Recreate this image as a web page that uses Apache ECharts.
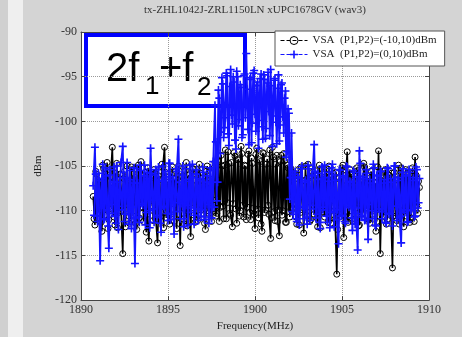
<!DOCTYPE html>
<html>
<head>
<meta charset="utf-8">
<script src="https://cdn.jsdelivr.net/npm/echarts@6/dist/echarts.min.js"></script>
<style>
  html, body { margin: 0; padding: 0; background: #d4d4d4; }
  #chart { width: 462px; height: 337px; }
</style>
</head>
<body>
<div id="chart"></div>
<script>
// Two captures per drive level; each sweeps 1890.7 MHz to 1909.4 MHz in 0.1 MHz steps,
// the second capture sitting half a step above the first.
const sweepStartMHz = [1890.7, 1890.75];
const sweepStepMHz = 0.1;

// VSA reading (dBm), (P1,P2) = (-10,10) dBm, capture 1
const lowDriveDbmA = [
  -108.4, -111.6, -105.9, -110.2, -106.7, -112.3, -105.3, -109.8, -104.6, -111.0,
  -106.2, -102.9, -110.7, -105.8, -111.9, -106.4, -110.0, -114.8, -105.6, -109.3,
  -106.9, -111.4, -105.1, -110.6, -106.3, -112.1, -104.9, -109.7, -106.0, -111.2,
  -105.7, -110.4, -113.4, -106.1, -109.5, -105.4, -111.0, -113.6, -106.5, -110.1,
  -105.2, -102.9, -110.8, -106.8, -111.5, -105.9, -109.2, -106.4, -112.0, -105.0,
  -113.9, -106.2, -110.3, -105.5, -111.7, -106.0, -112.9, -105.3, -110.5, -106.6,
  -111.1, -104.8, -109.9, -106.3, -111.4, -105.6, -110.0, -106.9, -111.2,
  -108.8, -104.6, -110.3, -103.9, -109.6, -105.0, -110.9, -103.2, -109.1, -104.7,
  -110.5, -111.8, -103.5, -109.8, -104.3, -110.6, -102.8, -109.4, -104.9, -111.0,
  -103.7, -110.2, -104.1, -109.7, -112.0, -103.0, -110.8, -104.5, -112.3, -103.6,
  -109.9, -104.2, -110.4, -113.1, -102.9, -110.1, -104.8, -111.2, -112.8, -103.8,
  -110.0, -104.4, -111.3, -105.2, -110.7, -106.0,
  -109.3, -106.1, -111.5, -105.4, -110.2, -106.7, -112.5, -105.0, -109.6, -106.3,
  -111.0, -105.7, -110.4, -106.0, -111.8, -104.9, -109.9, -106.5, -110.7, -105.3,
  -111.3, -106.2, -109.5, -105.8, -110.9, -117.1, -106.4, -110.1, -105.2, -113.0,
  -106.6, -103.4, -110.6, -105.9, -111.1, -106.1, -109.7, -105.5, -111.6, -106.8,
  -110.3, -105.1, -109.8, -106.4, -111.4, -105.6, -110.0, -106.9, -111.2, -103.3,
  -114.8, -106.2, -110.5, -105.4, -111.0, -106.0, -109.6, -116.4, -105.7, -110.8,
  -106.5, -111.5, -105.2, -109.9, -106.3, -110.6, -105.8, -111.3, -106.1, -110.2,
  -104.0, -109.4, -106.7
];

// VSA reading (dBm), (P1,P2) = (-10,10) dBm, capture 2
const lowDriveDbmB = [
  -110.9, -105.6, -109.4, -106.8, -111.3, -104.9, -110.5, -106.2, -112.0, -105.4,
  -109.8, -106.9, -111.6, -104.7, -110.2, -105.9, -108.7, -106.4, -111.8, -105.0,
  -110.6, -106.6, -109.1, -105.3, -111.4, -106.0, -110.8, -104.5, -109.6, -106.7,
  -112.4, -105.2, -110.0, -106.3, -111.1, -105.8, -109.3, -106.1, -110.7, -104.8,
  -111.9, -105.7, -109.5, -106.5, -110.4, -105.1, -111.2, -106.8, -109.0, -105.6,
  -110.9, -106.2, -111.5, -104.6, -110.1, -106.4, -109.7, -105.3, -111.3, -106.0,
  -110.5, -105.8, -109.4, -106.7, -112.1, -105.0, -110.3, -106.5, -109.8,
  -105.2, -110.6, -104.4, -111.2, -103.8, -109.5, -104.9, -110.9, -103.4, -110.3,
  -104.6, -109.2, -103.9, -111.4, -104.2, -110.0, -103.6, -110.7, -105.0, -109.6,
  -103.3, -111.0, -104.7, -110.4, -103.7, -109.8, -104.3, -111.5, -103.5, -110.2,
  -104.8, -109.4, -103.2, -110.8, -104.0, -111.1, -103.8, -109.9, -104.5, -110.5,
  -103.6, -111.3, -104.9, -110.1, -105.3, -109.7,
  -105.8, -110.7, -106.4, -111.6, -105.1, -109.9, -106.6, -110.5, -104.8, -111.2,
  -106.1, -109.4, -105.5, -110.8, -106.9, -111.9, -105.3, -110.2, -106.2, -109.6,
  -105.0, -111.4, -106.5, -110.0, -105.7, -112.1, -106.3, -109.8, -104.9, -110.6,
  -106.0, -111.3, -105.4, -109.5, -106.7, -110.9, -105.2, -111.7, -106.4, -110.3,
  -104.7, -109.7, -106.1, -111.0, -105.6, -110.4, -106.8, -112.3, -105.1, -109.9,
  -106.3, -110.7, -105.5, -111.5, -106.0, -109.3, -105.8, -110.6, -106.6, -111.1,
  -104.9, -110.1, -106.2, -111.8, -105.4, -109.6, -106.5, -110.8, -105.2, -111.2,
  -106.0, -110.3, -107.4
];

// VSA reading (dBm), (P1,P2) = (0,10) dBm, capture 1
const highDriveDbmA = [
  -107.2, -102.9, -110.6, -105.8, -115.6, -106.4, -111.0, -105.2, -109.9, -114.2,
  -106.0, -110.3, -105.1, -111.4, -106.8, -109.5, -104.6, -102.8, -111.2, -106.3,
  -110.1, -105.5, -112.0, -106.9, -115.9, -105.3, -110.7, -104.9, -109.2, -106.1,
  -111.6, -105.7, -110.0, -103.0, -108.8, -111.3, -105.4, -110.5, -106.6, -112.4,
  -105.0, -109.7, -106.2, -111.1, -104.7, -110.4, -106.5, -109.1, -105.6, -102.0,
  -110.9, -106.0, -111.8, -105.3, -109.4, -106.7, -110.2, -104.8, -111.5, -105.9,
  -109.8, -106.4, -110.6, -105.1, -111.0, -106.8, -109.3, -105.5, -110.8,
  -104.5, -98.2, -108.9, -96.5, -103.6, -95.1, -101.8, -99.6, -94.9, -102.7,
  -94.2, -100.3, -95.6, -103.1, -95.0, -99.8, -96.2, -101.5, -94.7, -92.4,
  -100.9, -95.3, -102.4, -94.6, -99.2, -96.0, -103.0, -95.2, -100.6, -94.8,
  -101.9, -95.7, -98.9, -94.2, -102.8, -95.4, -100.1, -96.3, -102.2, -95.9,
  -99.5, -97.4, -104.0, -98.6, -108.7, -101.3,
  -110.4, -105.6, -111.2, -106.3, -109.7, -105.0, -110.9, -106.6, -111.5, -105.3,
  -109.4, -106.1, -102.6, -110.8, -105.8, -111.3, -106.4, -109.9, -104.9, -110.6,
  -106.7, -111.9, -105.2, -110.1, -106.0, -111.0, -113.7, -105.5, -110.5, -106.3,
  -111.4, -105.1, -109.6, -106.8, -112.2, -105.7, -110.3, -114.4, -103.3, -110.7,
  -106.2, -111.1, -105.4, -113.2, -106.5, -110.0, -104.8, -111.6, -106.1, -109.8,
  -105.6, -110.9, -106.9, -111.3, -105.2, -110.4, -106.4, -111.7, -105.0, -109.5,
  -106.6, -110.8, -113.6, -105.3, -110.2, -106.0, -111.2, -105.7, -109.9, -106.3,
  -110.6, -105.4, -109.1
];

// VSA reading (dBm), (P1,P2) = (0,10) dBm, capture 2
const highDriveDbmB = [
  -110.5, -105.9, -111.2, -106.6, -109.7, -104.8, -110.9, -106.1, -111.7, -105.4,
  -109.3, -106.8, -110.6, -105.0, -112.1, -106.3, -109.9, -105.7, -110.4, -104.6,
  -111.5, -106.5, -109.6, -105.2, -110.8, -106.9, -111.3, -105.5, -109.4, -104.9,
  -110.2, -106.4, -111.9, -105.8, -109.8, -106.0, -110.7, -105.1, -111.4, -106.7,
  -109.5, -105.6, -110.3, -104.7, -111.0, -106.2, -112.6, -105.3, -110.1, -106.8,
  -109.2, -105.0, -110.9, -106.5, -111.6, -104.9, -109.7, -106.3, -110.5, -105.4,
  -111.1, -106.6, -109.9, -105.7, -110.7, -106.1, -111.4, -105.2, -109.6,
  -109.6, -102.3, -106.8, -97.4, -101.2, -95.8, -100.7, -94.6, -101.4, -96.1,
  -99.3, -95.0, -102.1, -94.4, -100.5, -95.9, -101.8, -94.9, -99.6, -96.4,
  -102.6, -95.1, -100.2, -94.3, -101.1, -95.6, -99.9, -94.7, -102.0, -95.3,
  -100.8, -94.5, -101.6, -96.0, -99.4, -95.2, -102.5, -94.8, -100.4, -95.7,
  -101.3, -96.6, -103.4, -99.1, -106.3, -110.1,
  -105.9, -110.9, -106.2, -111.6, -105.3, -109.5, -106.8, -110.7, -104.9, -111.1,
  -106.0, -109.8, -105.6, -110.4, -106.5, -112.0, -105.1, -109.6, -106.3, -111.3,
  -105.7, -110.2, -104.8, -111.8, -106.6, -109.9, -105.4, -110.6, -106.1, -111.2,
  -105.0, -109.4, -106.7, -110.8, -105.5, -111.5, -106.2, -109.7, -104.7, -110.5,
  -106.4, -111.0, -105.8, -109.3, -106.9, -110.9, -105.2, -111.7, -106.0, -110.1,
  -105.6, -109.8, -106.5, -111.4, -105.3, -110.3, -106.8, -109.5, -105.0, -111.1,
  -106.3, -110.6, -105.7, -109.9, -106.1, -111.3, -105.4, -110.0, -106.6, -110.7,
  -105.1, -109.7, -106.4
];

const seriesNames = ['VSA  (P1,P2)=(-10,10)dBm', 'VSA  (P1,P2)=(0,10)dBm'];
const chartTitle = 'tx-ZHL1042J-ZRL1150LN xUPC1678GV (wav3)';
const xAxisName = 'Frequency(MHz)';
const yAxisName = 'dBm';
const freqRange = [1890, 1910];
const levelRange = [-120, -90];
const tickStep = 5;

const toPoints = (vals, capture) =>
  vals.map((v, i) => [+(sweepStartMHz[capture] + i * sweepStepMHz).toFixed(3), v]);

const serif = '"Liberation Serif", "DejaVu Serif", serif';
const sans = '"Liberation Sans", Arial, sans-serif';
const plusSymbol = 'path://M4,0h2v4h4v2h-4v4h-2v-4h-4v-2h4z';

const axisCommon = {
  type: 'value',
  interval: tickStep,
  axisLine: { show: true, lineStyle: { color: '#444', width: 1 } },
  axisTick: { show: true, inside: true, length: 4, lineStyle: { color: '#444' } },
  axisLabel: { fontFamily: serif, fontSize: 12, color: '#333', margin: 4, formatter: v => String(v) },
  splitLine: { show: true, lineStyle: { color: '#9a9a9a', type: 'dotted', width: 1 } }
};

const lowDriveStyle = {
  type: 'line',
  name: seriesNames[0],
  symbol: 'circle', symbolSize: 6, showAllSymbol: true,
  lineStyle: { color: '#000', width: 1.6 },
  itemStyle: { color: 'rgba(0,0,0,0)', borderColor: '#000', borderWidth: 1 },
  z: 2
};
const highDriveStyle = {
  type: 'line',
  name: seriesNames[1],
  symbol: plusSymbol, symbolSize: 8, showAllSymbol: true,
  lineStyle: { color: '#1414ff', width: 1.8 },
  itemStyle: { color: '#1414ff' },
  z: 3
};

const chart = echarts.init(document.getElementById('chart'), null, { renderer: 'canvas' });

chart.setOption({
  backgroundColor: '#d4d4d4',
  animation: false,
  title: {
    text: chartTitle,
    left: 255,
    top: 5,
    textAlign: 'center',
    padding: 0,
    textStyle: { fontFamily: serif, fontSize: 11, fontWeight: 'normal', color: '#333' }
  },
  grid: {
    left: 81, right: 33, top: 32, bottom: 35,
    show: true, backgroundColor: '#ffffff', borderWidth: 0
  },
  legend: {
    left: 275, top: 31,
    orient: 'vertical',
    backgroundColor: '#ffffff',
    borderColor: '#555', borderWidth: 1,
    padding: [4, 8, 6, 5],
    itemGap: 3,
    itemWidth: 27, itemHeight: 10,
    lineStyle: { type: [4, 2], width: 1 },
    itemStyle: { borderWidth: 1 },
    textStyle: { fontFamily: serif, fontSize: 11, color: '#222' },
    data: seriesNames
  },
  xAxis: [
    Object.assign({}, axisCommon, {
      min: freqRange[0], max: freqRange[1],
      name: xAxisName, nameLocation: 'middle', nameGap: 18,
      nameTextStyle: { fontFamily: serif, fontSize: 11, color: '#222' }
    }),
    Object.assign({}, axisCommon, {
      position: 'top', min: freqRange[0], max: freqRange[1],
      axisLabel: { show: false }, splitLine: { show: false }
    })
  ],
  yAxis: [
    Object.assign({}, axisCommon, {
      min: levelRange[0], max: levelRange[1],
      name: yAxisName, nameLocation: 'middle', nameGap: 36,
      nameTextStyle: { fontFamily: serif, fontSize: 11, color: '#222' }
    }),
    Object.assign({}, axisCommon, {
      position: 'right', min: levelRange[0], max: levelRange[1],
      axisLabel: { show: false }, splitLine: { show: false }
    })
  ],
  series: [
    Object.assign({}, lowDriveStyle, { data: toPoints(lowDriveDbmA, 0) }),
    Object.assign({}, lowDriveStyle, { data: toPoints(lowDriveDbmB, 1) }),
    Object.assign({}, highDriveStyle, { data: toPoints(highDriveDbmA, 0) }),
    Object.assign({}, highDriveStyle, { data: toPoints(highDriveDbmB, 1) })
  ],
  graphic: [
    { type: 'rect', left: 8, top: 0, z: -10, shape: { width: 15, height: 337 }, style: { fill: '#efefef' } },
    { type: 'rect', left: 0, top: 0, z: -10, shape: { width: 8, height: 337 }, style: { fill: '#d0d0d0' } },
    {
      type: 'group', z: 100,
      children: [
        { type: 'rect', shape: { x: 86, y: 35, width: 159, height: 71 },
          style: { fill: 'none', stroke: '#0000ff', lineWidth: 4 } },
        { type: 'text', x: 106, y: 70, style: { text: '2f', font: '40px ' + sans, fill: '#000', textVerticalAlign: 'middle' } },
        { type: 'text', x: 145, y: 87, style: { text: '1', font: '26px ' + sans, fill: '#000', textVerticalAlign: 'middle' } },
        { type: 'text', x: 159, y: 70, style: { text: '+f', font: '40px ' + sans, fill: '#000', textVerticalAlign: 'middle' } },
        { type: 'text', x: 197, y: 88, style: { text: '2', font: '26px ' + sans, fill: '#000', textVerticalAlign: 'middle' } }
      ]
    }
  ]
});
</script>
</body>
</html>
